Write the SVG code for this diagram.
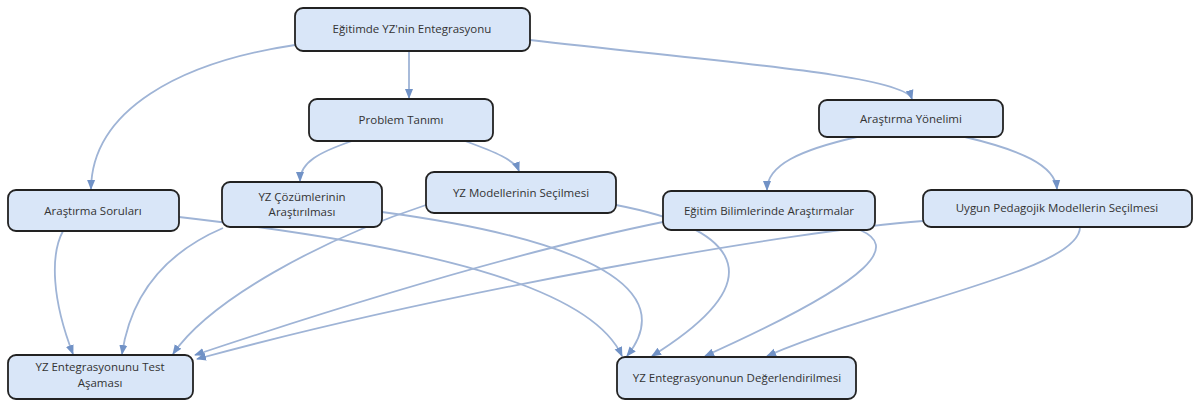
<svg xmlns="http://www.w3.org/2000/svg" width="1194" height="405" viewBox="0 0 1194 405">
  <style>
    .node rect { fill: #d9e6f8; stroke: #222; stroke-width: 1.8; }
    .node text { font-family: "Open Sans", "Liberation Sans", sans-serif; font-size: 11.5px; fill: #333; text-anchor: middle; }
    .edge { fill: none; stroke: #9fb4d6; stroke-width: 1.8; marker-end: url(#arrow); }
  </style>
  <defs>
    <marker id="arrow" markerUnits="userSpaceOnUse" markerWidth="10" markerHeight="10" viewBox="0 0 10 10" refX="9" refY="5" orient="auto">
      <path d="M0,1 L10,5 L0,9 Z" fill="#7192c6"/>
    </marker>
  </defs>

  <rect width="1194" height="405" fill="#fff"/>

  <g id="connectors">
    <path class="edge" d="M409,51 L409,98"/>
    <path class="edge" d="M295,45 C180,62 92,110 91,189"/>
    <path class="edge" d="M530,40 C720,62 905,75 912,99"/>
    <path class="edge" d="M352,141 C320,152 300,162 300,181"/>
    <path class="edge" d="M465,141 C495,152 515,160 519,171"/>
    <path class="edge" d="M857,137 C800,150 767,165 767,190"/>
    <path class="edge" d="M965,137 C1020,150 1055,165 1057,189"/>

    <path class="edge" d="M63,231 C50,255 52,300 73,354"/>
    <path class="edge" d="M223,228 C160,255 130,300 122,354"/>
    <path class="edge" d="M426,205 C320,240 210,300 173,354"/>
    <path class="edge" d="M663,222 C500,255 300,320 195,355"/>
    <path class="edge" d="M923,221 C800,230 450,290 197,359"/>

    <path class="edge" d="M179,217 C420,245 590,285 622,356"/>
    <path class="edge" d="M382,212 C590,240 680,290 627,356"/>
    <path class="edge" d="M616,205 C720,225 790,270 652,356"/>
    <path class="edge" d="M860,230 C895,245 885,275 705,356"/>
    <path class="edge" d="M1080,227 C1080,270 900,300 767,356"/>
  </g>

  <g id="n-entegrasyon" class="node">
    <rect x="295" y="8" width="235" height="43" rx="8"/>
    <text x="412" y="33">Eğitimde YZ'nin Entegrasyonu</text>
  </g>
  <g id="n-problem" class="node">
    <rect x="309" y="99" width="184" height="42" rx="8"/>
    <text x="401" y="124">Problem Tanımı</text>
  </g>
  <g id="n-yonelim" class="node">
    <rect x="819" y="100" width="184" height="37" rx="8"/>
    <text x="911" y="123">Araştırma Yönelimi</text>
  </g>
  <g id="n-sorular" class="node">
    <rect x="8" y="190" width="171" height="41" rx="8"/>
    <text x="93" y="215">Araştırma Soruları</text>
  </g>
  <g id="n-cozumler" class="node">
    <rect x="222" y="182" width="160" height="45" rx="8"/>
    <text x="302" y="201">YZ Çözümlerinin</text>
    <text x="302" y="216">Araştırılması</text>
  </g>
  <g id="n-modeller" class="node">
    <rect x="426" y="172" width="190" height="41" rx="8"/>
    <text x="521" y="197">YZ Modellerinin Seçilmesi</text>
  </g>
  <g id="n-egitim" class="node">
    <rect x="663" y="191" width="212" height="39" rx="8"/>
    <text x="769" y="215">Eğitim Bilimlerinde Araştırmalar</text>
  </g>
  <g id="n-pedagojik" class="node">
    <rect x="923" y="190" width="269" height="37" rx="8"/>
    <text x="1057" y="212">Uygun Pedagojik Modellerin Seçilmesi</text>
  </g>
  <g id="n-test" class="node">
    <rect x="8" y="355" width="185" height="44" rx="8"/>
    <text x="100" y="371">YZ Entegrasyonunu Test</text>
    <text x="100" y="387">Aşaması</text>
  </g>
  <g id="n-degerlendirme" class="node">
    <rect x="617" y="357" width="239" height="42" rx="8"/>
    <text x="737" y="382">YZ Entegrasyonunun Değerlendirilmesi</text>
  </g>
</svg>
